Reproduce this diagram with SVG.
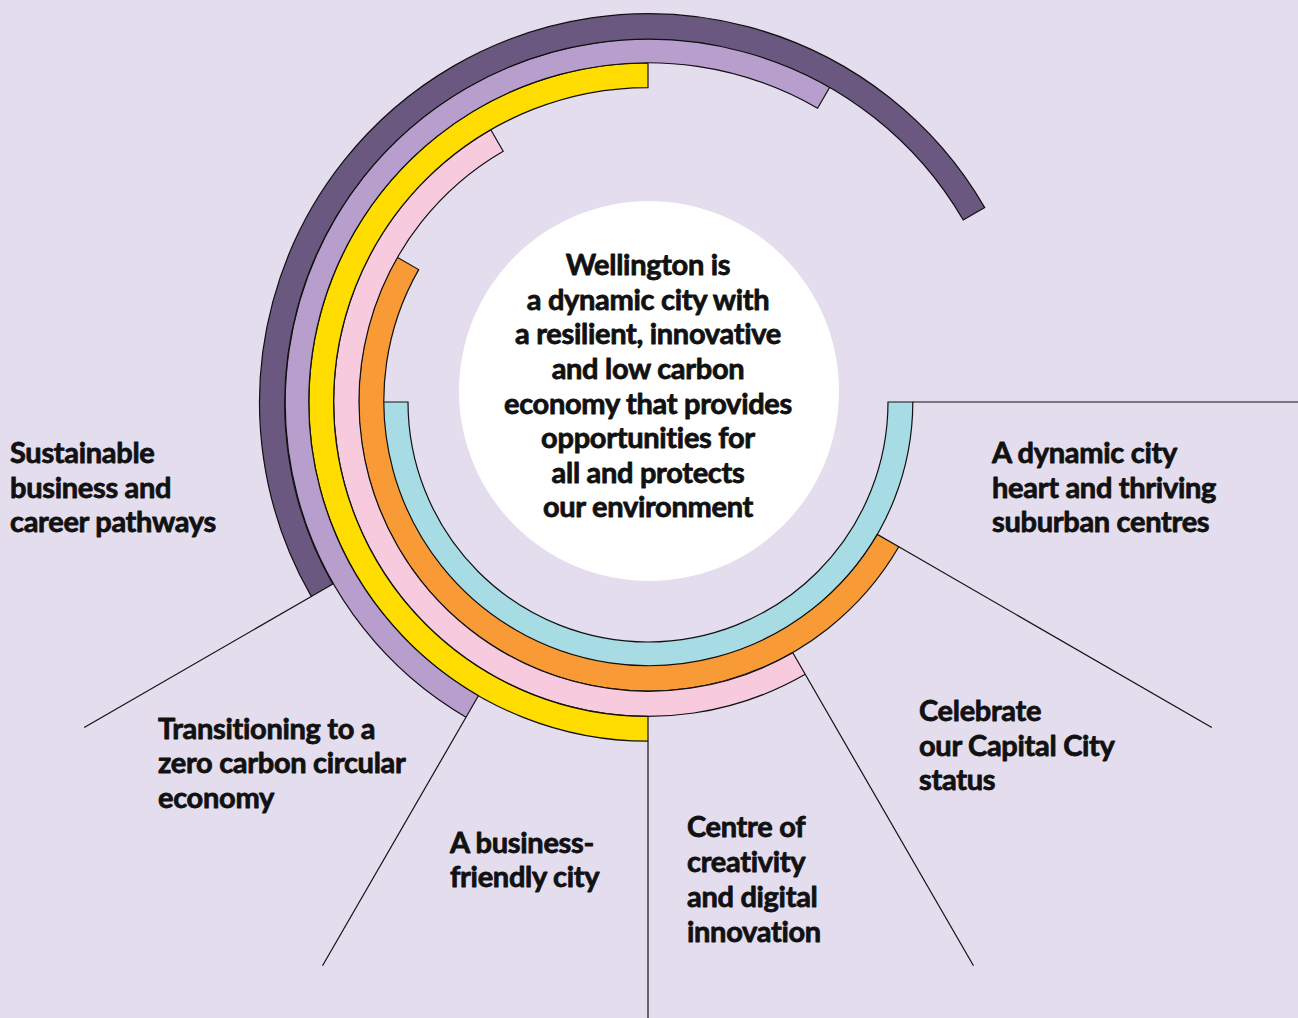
<svg xmlns="http://www.w3.org/2000/svg" width="1298" height="1018" viewBox="0 0 1298 1018">
<style>
.ring{stroke:#111;stroke-width:1.2;stroke-linejoin:miter}
.ln{stroke:#111;stroke-width:1.2;fill:none}
text{font-family:Lato,"Open Sans","Liberation Sans",sans-serif;font-weight:700;font-size:29px;fill:#111;stroke:#111;stroke-width:0.8px;stroke-linejoin:round;letter-spacing:-0.3px}
.c{text-anchor:middle}
</style>
<rect width="1298" height="1018" fill="#E3DDEE"/>
<g id="connectors">
<line class="ln" x1="912.8" y1="402" x2="1298" y2="402"/>
<line class="ln" x1="898.8" y1="546.8" x2="1211.8" y2="727.5"/>
<line class="ln" x1="805.2" y1="674.28" x2="973.5" y2="965.8"/>
<line class="ln" x1="648" y1="741.2" x2="648" y2="1018"/>
<line class="ln" x1="466" y1="717.23" x2="322.5" y2="965.8"/>
<line class="ln" x1="311.29" y1="596.4" x2="84.2" y2="727.5"/>
</g>
<g id="arcs">
<path id="arc-cyan" class="ring" fill="#A8DCE4" d="M912.8 402 A264.8 264.8 0 0 1 383.2 402 L408 402 A240 240 0 0 0 888 402 Z"/>
<path id="arc-orange" class="ring" fill="#F89A35" d="M898.8 546.8 A289.6 289.6 0 0 1 397.2 257.2 L418.68 269.6 A264.8 264.8 0 0 0 877.32 534.4 Z"/>
<path id="arc-pink" class="ring" fill="#F8CADE" d="M805.2 674.28 A314.4 314.4 0 0 1 490.8 129.72 L503.2 151.2 A289.6 289.6 0 0 0 792.8 652.8 Z"/>
<path id="arc-yellow" class="ring" fill="#FFDD00" d="M648 741.2 A339.2 339.2 0 0 1 648 62.8 L648 87.6 A314.4 314.4 0 0 0 648 716.4 Z"/>
<path id="arc-lavender" class="ring" fill="#B89ECC" d="M466 717.23 A364 364 0 0 1 830 86.77 L817.6 108.24 A339.2 339.2 0 0 0 478.4 695.76 Z"/>
<path id="arc-dark" class="ring" fill="#6B5880" d="M311.29 596.4 A388.8 388.8 0 0 1 984.71 207.6 L963.23 220 A364 364 0 0 0 332.77 584 Z"/>
</g>
<g id="center">
<circle cx="649" cy="391" r="190" fill="#FFFFFF"/>
<text class="c" x="648" y="275">Wellington is</text>
<text class="c" x="648" y="310">a dynamic city with</text>
<text class="c" x="648" y="344">a resilient, innovative</text>
<text class="c" x="648" y="379">and low carbon</text>
<text class="c" x="648" y="414">economy that provides</text>
<text class="c" x="648" y="448">opportunities for</text>
<text class="c" x="648" y="483">all and protects</text>
<text class="c" x="648" y="517">our environment</text>
</g>
<g id="label-sustainable">
<text x="10" y="463">Sustainable</text>
<text x="10" y="498">business and</text>
<text x="10" y="532">career pathways</text>
</g>
<g id="label-dynamic">
<text x="992" y="463">A dynamic city</text>
<text x="992" y="498">heart and thriving</text>
<text x="992" y="532">suburban centres</text>
</g>
<g id="label-capital">
<text x="919" y="721">Celebrate</text>
<text x="919" y="756">our Capital City</text>
<text x="919" y="790">status</text>
</g>
<g id="label-transitioning">
<text x="158" y="739">Transitioning to a</text>
<text x="158" y="773">zero carbon circular</text>
<text x="158" y="808">economy</text>
</g>
<g id="label-business">
<text x="450" y="853">A business-</text>
<text x="450" y="887">friendly city</text>
</g>
<g id="label-creativity">
<text x="687" y="837">Centre of</text>
<text x="687" y="872">creativity</text>
<text x="687" y="907">and digital</text>
<text x="687" y="942">innovation</text>
</g>
</svg>
